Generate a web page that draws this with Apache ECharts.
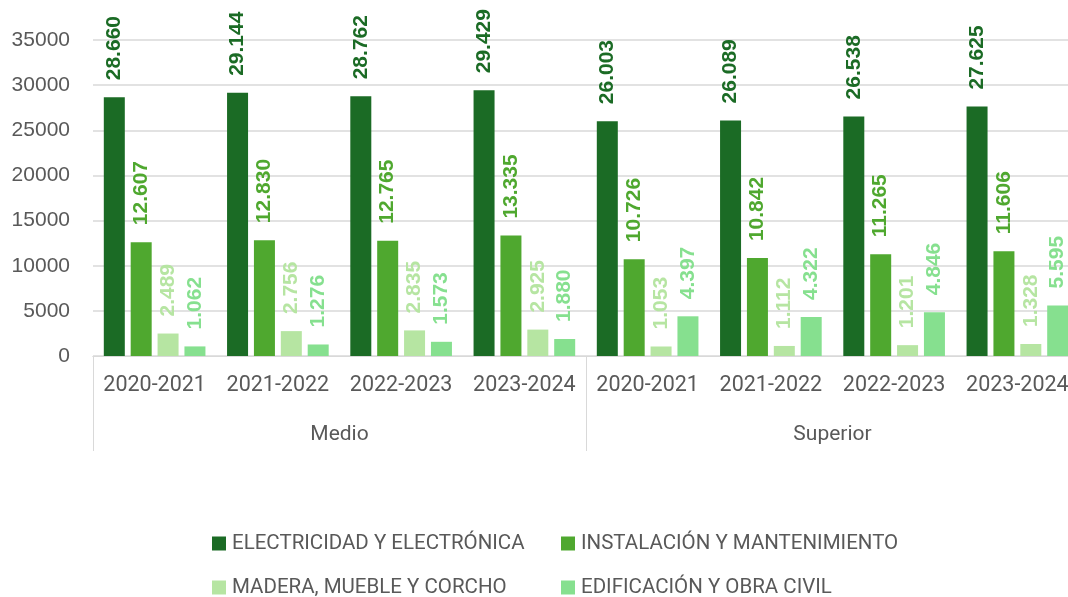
<!DOCTYPE html>
<html>
<head>
<meta charset="utf-8">
<script src="https://cdn.jsdelivr.net/npm/echarts@6/dist/echarts.min.js"></script>
<style>
  html, body { margin: 0; padding: 0; background: #ffffff; }
  #chart { width: 1068px; height: 597px; }
</style>
</head>
<body>
<div id="chart"></div>
<script>
// Academic years and education levels (two-level category axis)
const years = ['2020-2021', '2021-2022', '2022-2023', '2023-2024'];
const levels = ['Medio', 'Superior'];

// Enrolment per professional family: Medio years first, then Superior years
const electricidad = [28660, 29144, 28762, 29429, 26003, 26089, 26538, 27625];
const instalacion  = [12607, 12830, 12765, 13335, 10726, 10842, 11265, 11606];
const madera       = [2489, 2756, 2835, 2925, 1053, 1112, 1201, 1328];
const edificacion  = [1062, 1276, 1573, 1880, 4397, 4322, 4846, 5595];

const seriesNames = [
  'ELECTRICIDAD Y ELECTRÓNICA',
  'INSTALACIÓN Y MANTENIMIENTO',
  'MADERA, MUEBLE Y CORCHO',
  'EDIFICACIÓN Y OBRA CIVIL'
];
const colors = ['#1b6b25', '#4fa82f', '#b6e5a2', '#86e08f'];

// Unique category keys "level|year"; only the year part is displayed
const categories = [];
levels.forEach(l => years.forEach(y => categories.push(l + '|' + y)));

const fmt = v => String(v).replace(/\B(?=(\d{3})+(?!\d))/g, '.');
const gray = '#595959';
const lineGray = '#d9d9d9';

function bar(name, data, color) {
  return {
    name: name,
    type: 'bar',
    data: data,
    barWidth: 21,
    barGap: '28%',
    itemStyle: { color: color },
    label: {
      show: true,
      position: 'top',
      rotate: 90,
      align: 'left',
      verticalAlign: 'middle',
      distance: 17,
      color: color,
      fontFamily: 'Liberation Sans',
      fontWeight: 'bold',
      fontSize: 21,
      formatter: p => fmt(p.value)
    }
  };
}

// One legend block per entry so the two columns line up
const legendPos = [
  { left: 212, top: 533 },
  { left: 561, top: 533 },
  { left: 212, top: 577 },
  { left: 561, top: 577 }
];
const legends = seriesNames.map((n, i) => ({
  left: legendPos[i].left,
  top: legendPos[i].top,
  padding: 0,
  itemWidth: 14,
  itemHeight: 14,
  itemGap: 0,
  icon: 'rect',
  data: [n],
  textStyle: { color: gray, fontFamily: 'Roboto', fontSize: 20.5, padding: [0, 0, 0, 1] }
}));

const chart = echarts.init(document.getElementById('chart'), null, { renderer: 'canvas' });
chart.setOption({
  animation: false,
  backgroundColor: '#ffffff',
  color: colors,
  grid: { left: 93, width: 986, top: 40, bottom: 241, containLabel: false, outerBoundsMode: 'none' },
  legend: legends,
  xAxis: [
    {
      type: 'category',
      data: categories,
      position: 'bottom',
      axisLine: { show: true, lineStyle: { color: lineGray, width: 1 } },
      axisTick: { show: false },
      axisLabel: {
        interval: 0,
        margin: 19,
        color: gray,
        fontFamily: 'Roboto',
        fontSize: 21.5,
        formatter: v => v.split('|')[1]
      }
    },
    {
      type: 'category',
      data: levels,
      position: 'bottom',
      gridIndex: 0,
      axisLine: { show: true, lineStyle: { color: lineGray, width: 1 } },
      axisTick: { show: true, length: 95, interval: 0, lineStyle: { color: lineGray, width: 1 } },
      axisLabel: {
        interval: 0,
        margin: 68,
        color: gray,
        fontFamily: 'Roboto',
        fontSize: 21
      }
    }
  ],
  yAxis: {
    type: 'value',
    min: 0,
    max: 35000,
    interval: 5000,
    axisLine: { show: false },
    axisTick: { show: false },
    splitLine: { show: true, lineStyle: { color: lineGray, width: 1.5 } },
    axisLabel: {
      margin: 23,
      color: gray,
      fontFamily: 'Liberation Sans',
      fontSize: 21,
      formatter: v => String(v)
    }
  },
  series: [
    bar(seriesNames[0], electricidad, colors[0]),
    bar(seriesNames[1], instalacion, colors[1]),
    bar(seriesNames[2], madera, colors[2]),
    bar(seriesNames[3], edificacion, colors[3])
  ]
});
</script>
</body>
</html>
